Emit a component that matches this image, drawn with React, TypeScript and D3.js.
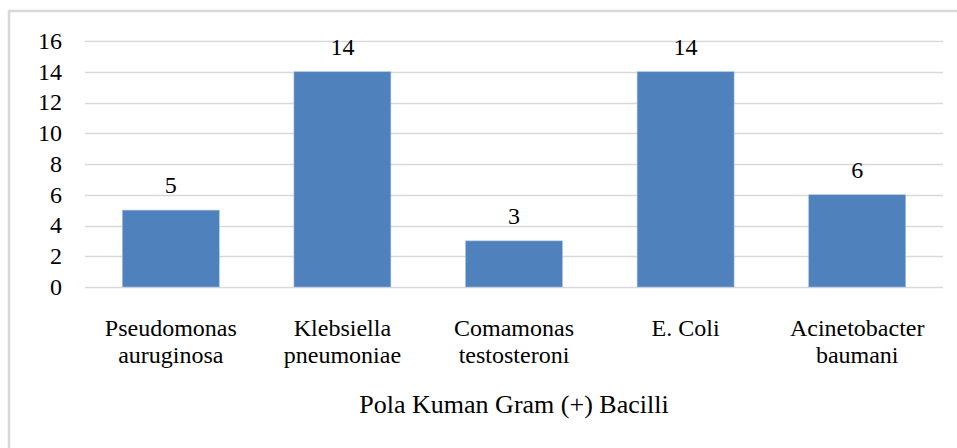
import { useEffect, useRef } from 'react';
import * as d3 from 'd3';

const categories = [
  ['Pseudomonas', 'auruginosa'],
  ['Klebsiella', 'pneumoniae'],
  ['Comamonas', 'testosteroni'],
  ['E. Coli'],
  ['Acinetobacter', 'baumani'],
];
const values = [5, 14, 3, 14, 6];
const yTicks = [0, 2, 4, 6, 8, 10, 12, 14, 16];
const axisTitle = 'Pola Kuman Gram (+) Bacilli';

const WIDTH = 957;
const HEIGHT = 448;

const BarChart = () => {
  const svgRef = useRef<SVGSVGElement>(null);

  useEffect(() => {
    const svg = d3.select(svgRef.current);
    svg.selectAll('*').remove();

    const font = '"Liberation Serif", "Times New Roman", serif';
    const margin = { top: 41, right: 14, bottom: 161, left: 85 };
    const chartWidth = WIDTH - margin.left - margin.right;
    const chartHeight = HEIGHT - margin.top - margin.bottom;

    // Outer chart border (right/bottom run off the picture)
    svg
      .append('rect')
      .attr('x', 9)
      .attr('y', 11)
      .attr('width', WIDTH + 20)
      .attr('height', HEIGHT + 20)
      .attr('fill', '#fff')
      .attr('stroke', '#d9d9d9')
      .attr('stroke-width', 2.5);

    const g = svg
      .append('g')
      .attr('transform', `translate(${margin.left},${margin.top})`);

    const keys = categories.map(c => c.join(' '));

    // Scales
    const xScale = d3
      .scaleBand()
      .domain(keys)
      .range([0, chartWidth])
      .paddingInner(0.435)
      .paddingOuter(0.2175);

    const yScale = d3.scaleLinear().domain([0, 16]).range([chartHeight, 0]);

    // Gridlines
    g.selectAll('.grid')
      .data(yTicks)
      .enter()
      .append('line')
      .attr('class', 'grid')
      .attr('x1', 0)
      .attr('x2', chartWidth)
      .attr('y1', d => Math.round(yScale(d)) + 0.5)
      .attr('y2', d => Math.round(yScale(d)) + 0.5)
      .attr('stroke', '#d9d9d9')
      .attr('stroke-width', 1.5);

    // Y tick labels
    g.selectAll('.ytick')
      .data(yTicks)
      .enter()
      .append('text')
      .attr('class', 'ytick')
      .attr('x', -23)
      .attr('y', d => yScale(d))
      .attr('dy', '0.33em')
      .attr('text-anchor', 'end')
      .style('font-family', font)
      .style('font-size', '24px')
      .style('fill', '#000')
      .text(d => d);

    // Bars
    g.selectAll('.bar')
      .data(values)
      .enter()
      .append('rect')
      .attr('class', 'bar')
      .attr('x', (d, i) => xScale(keys[i]) as number)
      .attr('width', xScale.bandwidth())
      .attr('y', d => yScale(d))
      .attr('height', d => chartHeight - yScale(d))
      .attr('fill', '#4f81bd')
      .attr('stroke', '#a7c0de')
      .attr('stroke-width', 0.6);

    // Value labels
    g.selectAll('.bar-label')
      .data(values)
      .enter()
      .append('text')
      .attr('class', 'bar-label')
      .attr('x', (d, i) => (xScale(keys[i]) as number) + xScale.bandwidth() / 2)
      .attr('y', d => yScale(d) - 17)
      .attr('text-anchor', 'middle')
      .style('font-family', font)
      .style('font-size', '24px')
      .style('fill', '#000')
      .text(d => d);

    // Category labels
    const catText = g
      .selectAll('.cat')
      .data(categories)
      .enter()
      .append('text')
      .attr('class', 'cat')
      .attr('text-anchor', 'middle')
      .style('font-family', font)
      .style('font-size', '24px')
      .style('fill', '#000');

    catText
      .selectAll('tspan')
      .data((d, i) => d.map(line => ({ line, key: keys[i] })))
      .enter()
      .append('tspan')
      .attr('x', d => (xScale(d.key) as number) + xScale.bandwidth() / 2)
      .attr('y', (d, j) => chartHeight + 49 + j * 27)
      .text(d => d.line);

    // Axis title
    svg
      .append('text')
      .attr('x', margin.left + chartWidth / 2)
      .attr('y', 413)
      .attr('text-anchor', 'middle')
      .style('font-family', font)
      .style('font-size', '26px')
      .style('fill', '#000')
      .text(axisTitle);
  }, []);

  return (
    <svg
      ref={svgRef}
      width={WIDTH}
      height={HEIGHT}
      style={{ position: 'absolute', left: 0, top: 0, background: '#fff' }}
    />
  );
};

export default function App() {
  return <BarChart />;
}
